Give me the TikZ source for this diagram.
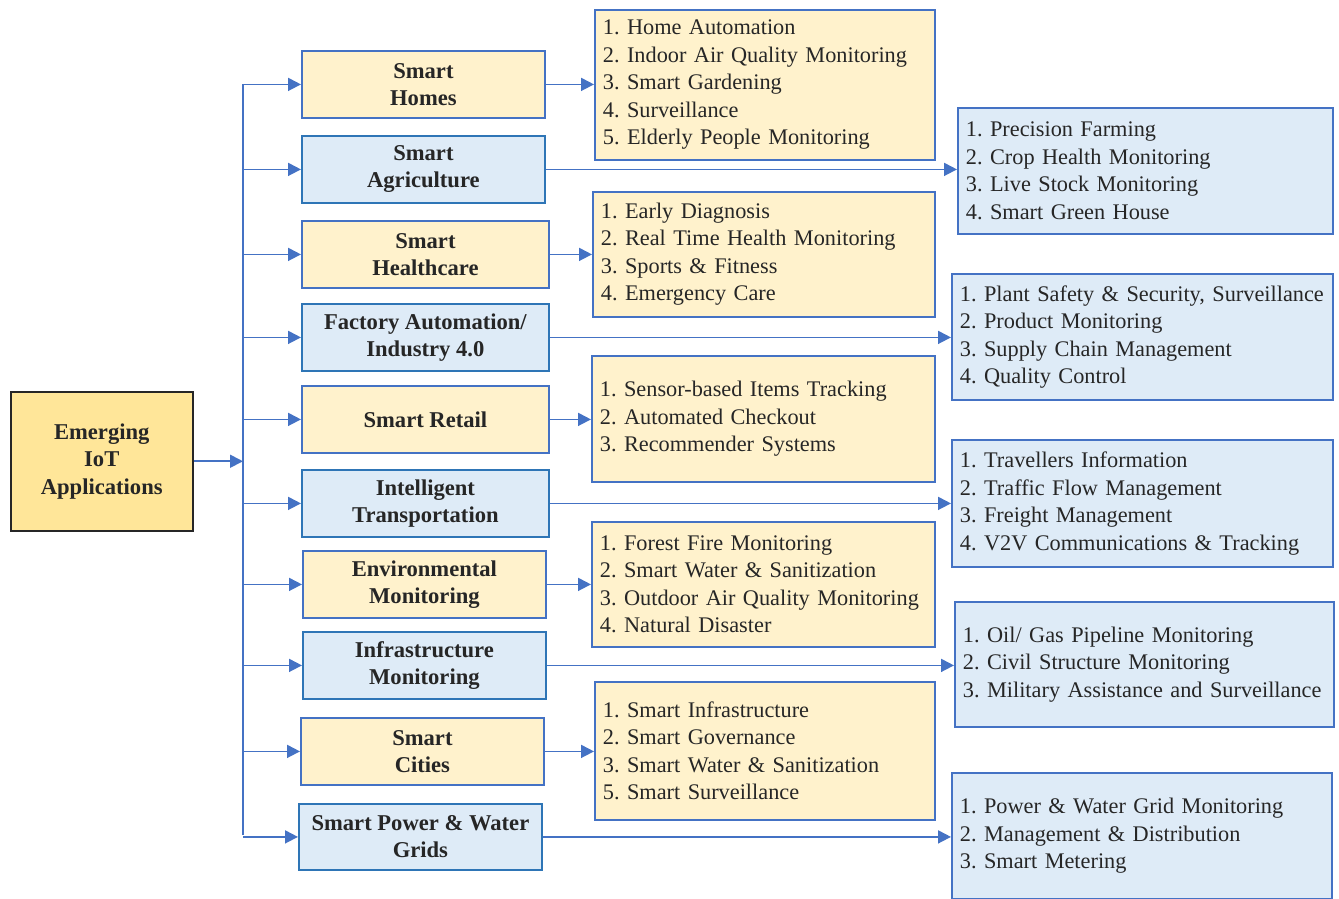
\documentclass[tikz,border=0pt]{standalone}
\usepackage{fontspec}
\setmainfont{Liberation Serif}
\usetikzlibrary{arrows.meta}
\definecolor{ylfill}{HTML}{FFF2CC}
\definecolor{blfill}{HTML}{DEEBF7}
\definecolor{ylline}{HTML}{4472C4}
\definecolor{blline}{HTML}{2E75B6}
\definecolor{mainfill}{HTML}{FFE699}
\definecolor{txt}{HTML}{262626}
\definecolor{arrc}{HTML}{4472C4}
\frenchspacing
\begin{document}
\begin{tikzpicture}[x=1pt,y=-1pt,
  box/.style={rectangle, anchor=north west, line width=1.8pt, inner sep=0pt, text=txt},
  cat/.style={box, font=\fontsize{22.6}{27}\selectfont\bfseries, align=center},
  catY/.style={cat, fill=ylfill, draw=ylline},
  catB/.style={cat, fill=blfill, draw=blline},
  list/.style={box, font=\fontsize{22.3}{27.5}\selectfont, align=left, inner xsep=8pt},
  listY/.style={list, fill=ylfill, draw=ylline},
  listB/.style={list, fill=blfill, draw=ylline},
  mainbox/.style={box, fill=mainfill, draw=txt, line width=1.5pt, font=\fontsize{22.6}{27.5}\selectfont\bfseries, align=center},
  arr/.style={draw=arrc, line width=1.8pt, -{Triangle[length=13pt,width=13pt]}},
  bus/.style={draw=arrc, line width=1.8pt}
]
\useasboundingbox (0,0) rectangle (1339,898);

% main
\node[mainbox, minimum width=182, minimum height=139] (main) at (10,391) {Emerging\\IoT\\Applications};

% categories
\node[catY, minimum width=243, minimum height=67] (homes) at (301,50) {Smart\\Homes};
\node[catB, minimum width=243, minimum height=67] (agri) at (301,135) {Smart\\Agriculture};
\node[catY, minimum width=247, minimum height=67] (health) at (301,220) {Smart\\Healthcare};
\node[catB, minimum width=247, minimum height=67] (factory) at (301,303) {Factory Automation/\\Industry 4.0};
\node[catY, minimum width=247, minimum height=67] (retail) at (301,385) {Smart Retail};
\node[catB, minimum width=247, minimum height=67] (transp) at (301,469) {Intelligent\\Transportation};
\node[catY, minimum width=243, minimum height=67] (env) at (302,550) {Environmental\\Monitoring};
\node[catB, minimum width=243, minimum height=67] (infra) at (302,631) {Infrastructure\\Monitoring};
\node[catY, minimum width=243, minimum height=67] (cities) at (300,717) {Smart\\Cities};
\node[catB, minimum width=243, minimum height=66] (power) at (298,803) {Smart Power \& Water\\Grids};

% lists
\node[listY, minimum width=340, minimum height=150, text width=324] (homesL) at (594,9)
  {1. Home Automation\\2. Indoor Air Quality Monitoring\\3. Smart Gardening\\4. Surveillance\\5. Elderly People Monitoring};
\node[listB, minimum width=375, minimum height=126, text width=359] (agriL) at (957,107)
  {1. Precision Farming\\2. Crop Health Monitoring\\3. Live Stock Monitoring\\4. Smart Green House};
\node[listY, minimum width=342, minimum height=125, text width=326] (healthL) at (592,191)
  {1. Early Diagnosis\\2. Real Time Health Monitoring\\3. Sports \& Fitness\\4. Emergency Care};
\node[listB, minimum width=381, minimum height=126, text width=365, inner xsep=7pt] (factoryL) at (951,273)
  {1. Plant Safety \& Security, Surveillance\\2. Product Monitoring\\3. Supply Chain Management\\4. Quality Control};
\node[listY, minimum width=343, minimum height=126, text width=327] (retailL) at (591,355)
  {1. Sensor-based Items Tracking\\2. Automated Checkout\\3. Recommender Systems};
\node[listB, minimum width=381, minimum height=127, text width=365] (transpL) at (951,439)
  {1. Travellers Information\\2. Traffic Flow Management\\3. Freight Management\\4. V2V Communications \& Tracking};
\node[listY, minimum width=343, minimum height=125, text width=327] (envL) at (591,521)
  {1. Forest Fire Monitoring\\2. Smart Water \& Sanitization\\3. Outdoor Air Quality Monitoring\\4. Natural Disaster};
\node[listB, minimum width=379, minimum height=125, text width=363] (infraL) at (954,601)
  {1. Oil/ Gas Pipeline Monitoring\\2. Civil Structure Monitoring\\3. Military Assistance and Surveillance};
\node[listY, minimum width=340, minimum height=138, text width=324] (citiesL) at (594,681)
  {1. Smart Infrastructure\\2. Smart Governance\\3. Smart Water \& Sanitization\\5. Smart Surveillance};
\node[listB, minimum width=380, minimum height=126, text width=364] (powerL) at (951,772)
  {1. Power \& Water Grid Monitoring\\2. Management \& Distribution\\3. Smart Metering};

% bus
\coordinate (busTop) at (243,84);
\coordinate (busBot) at (243,835);
\draw[bus] (busTop) -- (busBot);
\draw[arr] (main.east) -- (main.east -| busTop);

\foreach \c in {homes,agri,health,factory,retail,transp,env,infra,cities,power}{
  \draw[arr] (\c.west -| busTop) -- (\c.west);
  \draw[arr] (\c.east) -- (\c.east -| \c L.west);
}
\end{tikzpicture}
\end{document}
